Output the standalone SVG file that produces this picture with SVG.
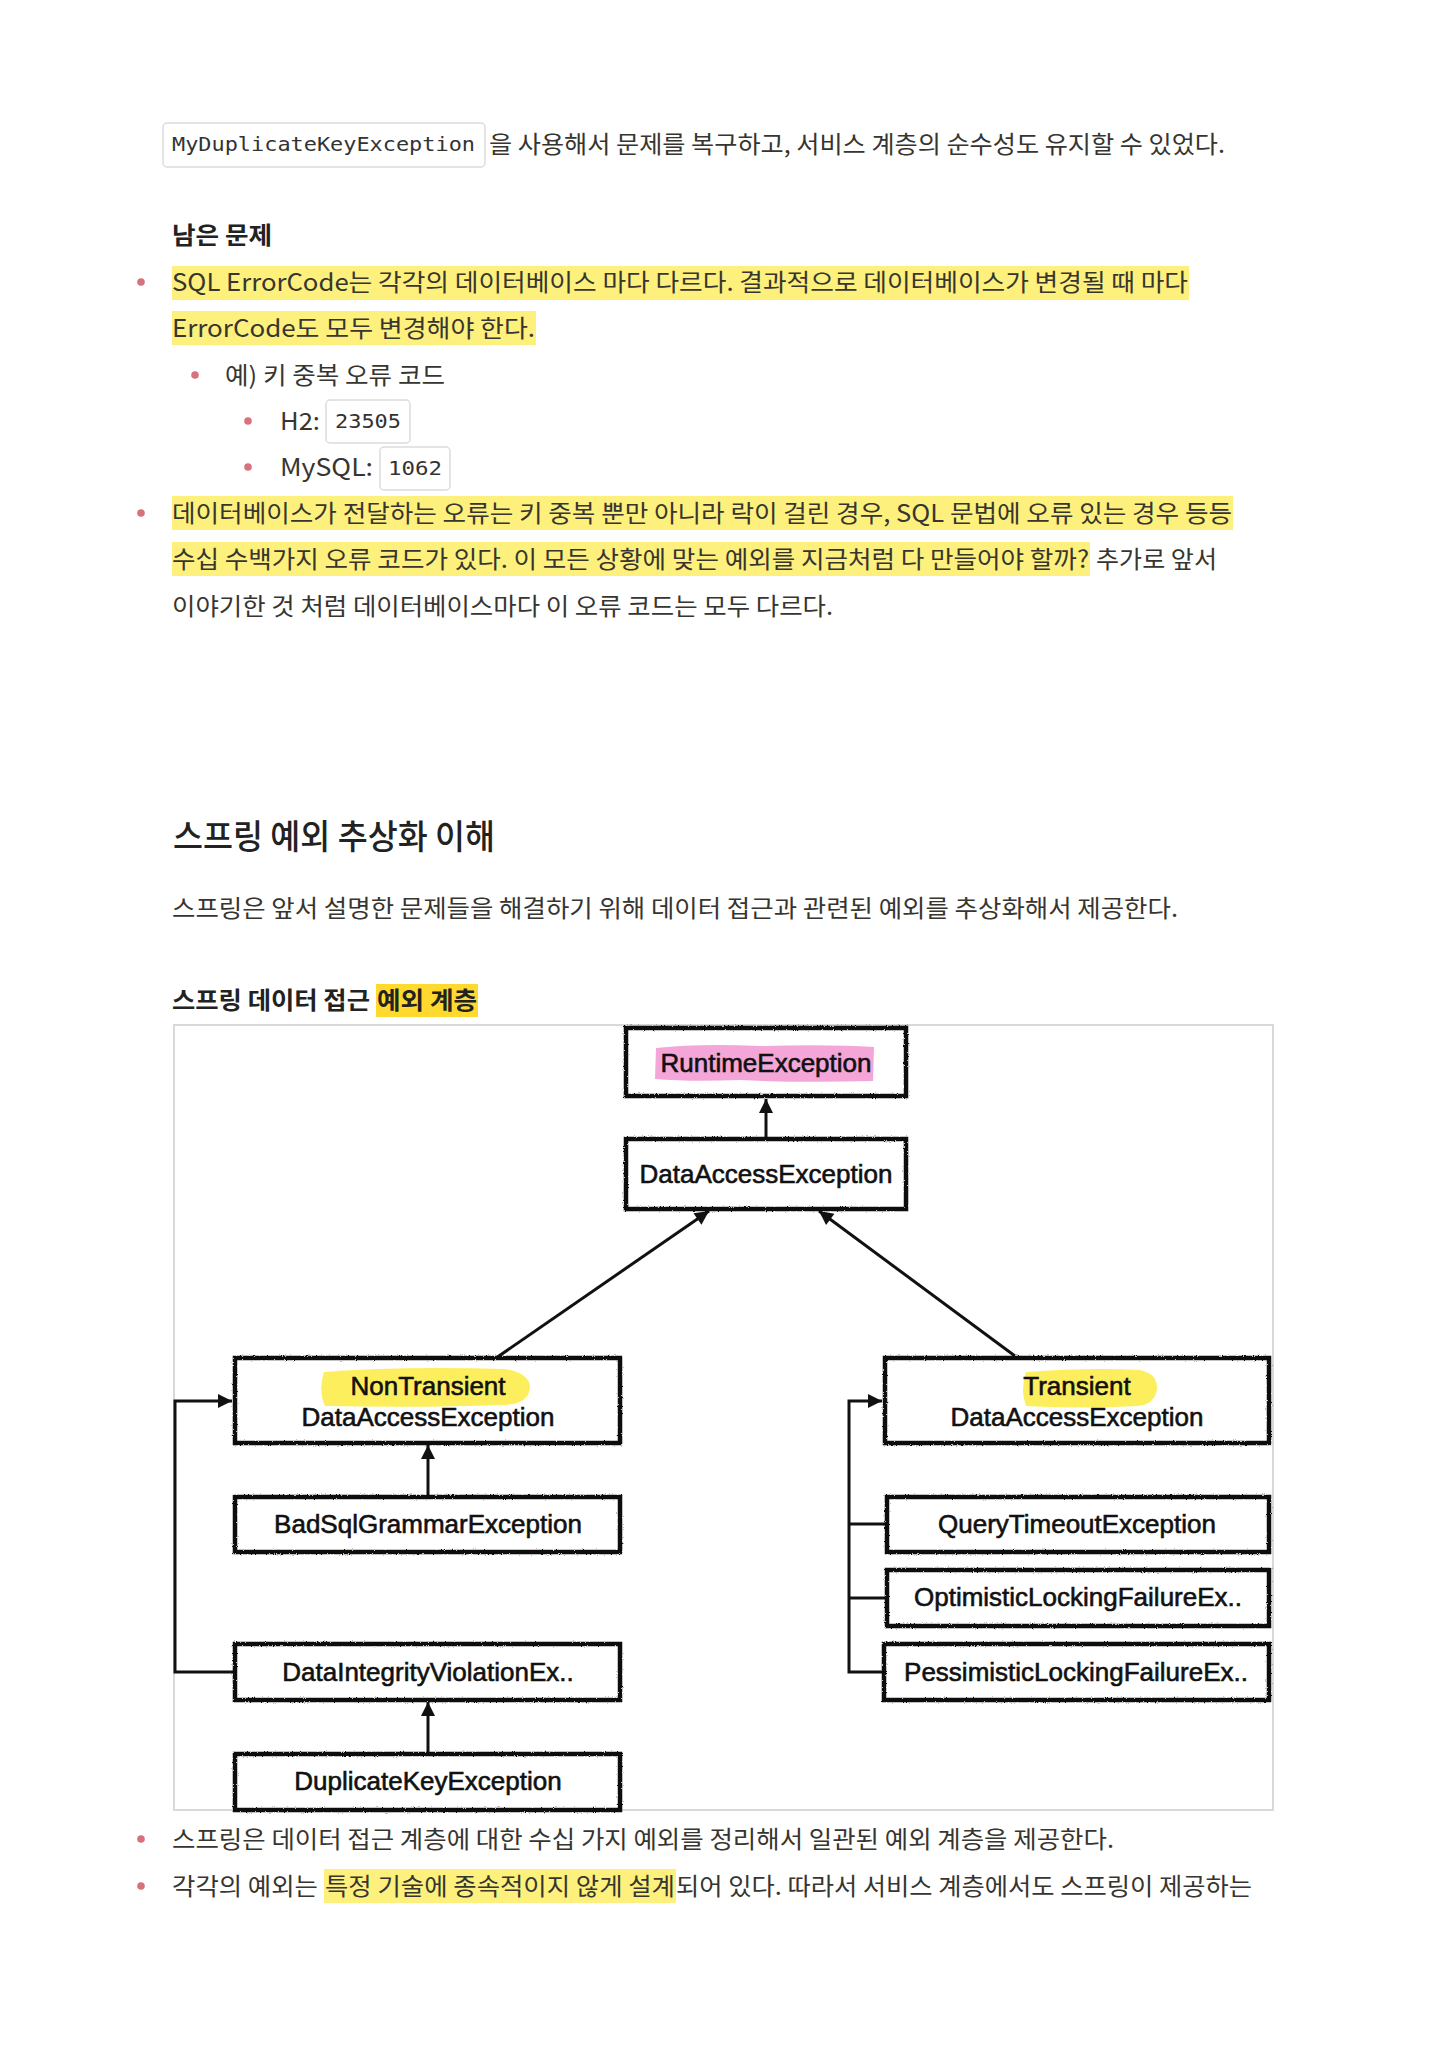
<svg xmlns="http://www.w3.org/2000/svg" width="1447" height="2048" viewBox="0 0 1447 2048">
<defs>
<style>
.b{font-family:"Noto Sans CJK KR","Noto Sans",sans-serif;font-size:24px;fill:#37352f}
.bb{font-family:"Noto Sans CJK KR","Noto Sans",sans-serif;font-size:24px;font-weight:700;fill:#222}
.h{font-family:"Noto Sans CJK KR","Noto Sans",sans-serif;font-size:34px;font-weight:500;fill:#222}
.m{font-family:"DejaVu Sans Mono","Liberation Mono",monospace;font-size:20px;fill:#333}
.cb{fill:#fff;stroke:#dcdcdc;stroke-width:1.5}
.hl{fill:#fdf07c}
.dot{fill:#d9717d}
.n{fill:#fff;stroke:#111;stroke-width:4.5;filter:url(#rough)}
.nt{font-family:"Liberation Sans",Arial,sans-serif;font-size:26px;fill:#111;stroke:#111;stroke-width:0.6;text-anchor:middle}
.c{fill:none;stroke:#111;stroke-width:3}
</style>
<filter id="rough" x="-5%" y="-20%" width="110%" height="140%">
<feTurbulence type="fractalNoise" baseFrequency="0.9" numOctaves="2" seed="4"/>
<feDisplacementMap in="SourceGraphic" scale="2.5" xChannelSelector="R" yChannelSelector="G"/>
</filter>
<marker id="ah" viewBox="0 0 10 10" refX="10" refY="5" markerWidth="17" markerHeight="14" markerUnits="userSpaceOnUse" orient="auto">
<path d="M0,0 L10,5 L0,10 z" fill="#111"/>
</marker>
</defs>
<rect width="1447" height="2048" fill="#fff"/>

<!-- top paragraph -->
<rect class="cb" x="163" y="123" width="322" height="44" rx="4"/>
<text class="m" x="172" y="151" textLength="303" lengthAdjust="spacingAndGlyphs">MyDuplicateKeyException</text>
<text class="b" x="489" y="153" textLength="736" lengthAdjust="spacingAndGlyphs">을 사용해서 문제를 복구하고, 서비스 계층의 순수성도 유지할 수 있었다.</text>

<text class="bb" x="172" y="244" textLength="100" lengthAdjust="spacingAndGlyphs">남은 문제</text>

<circle class="dot" cx="141" cy="282" r="3.8"/>
<rect class="hl" x="172" y="266" width="1017" height="34"/>
<text class="b" x="172" y="291" textLength="1016" lengthAdjust="spacingAndGlyphs">SQL ErrorCode는 각각의 데이터베이스 마다 다르다. 결과적으로 데이터베이스가 변경될 때 마다</text>
<rect class="hl" x="172" y="311" width="364" height="34"/>
<text class="b" x="172" y="337" textLength="363" lengthAdjust="spacingAndGlyphs">ErrorCode도 모두 변경해야 한다.</text>

<circle class="dot" cx="195" cy="375" r="3.8"/>
<text class="b" x="225" y="384" textLength="220" lengthAdjust="spacingAndGlyphs">예) 키 중복 오류 코드</text>

<circle class="dot" cx="248" cy="421" r="3.8"/>
<text class="b" x="280" y="430" textLength="40" lengthAdjust="spacingAndGlyphs">H2:</text>
<rect class="cb" x="326" y="400" width="84" height="43" rx="4"/>
<text class="m" x="335" y="428" textLength="66" lengthAdjust="spacingAndGlyphs">23505</text>

<circle class="dot" cx="248" cy="467" r="3.8"/>
<text class="b" x="280" y="476" textLength="93" lengthAdjust="spacingAndGlyphs">MySQL:</text>
<rect class="cb" x="380" y="447" width="70" height="43" rx="4"/>
<text class="m" x="388" y="475" textLength="54" lengthAdjust="spacingAndGlyphs">1062</text>

<circle class="dot" cx="141" cy="513" r="3.8"/>
<rect class="hl" x="172" y="496" width="1061" height="34"/>
<text class="b" x="172" y="522" textLength="1060" lengthAdjust="spacingAndGlyphs">데이터베이스가 전달하는 오류는 키 중복 뿐만 아니라 락이 걸린 경우, SQL 문법에 오류 있는 경우 등등</text>
<rect class="hl" x="172" y="542" width="918" height="34"/>
<text class="b" x="172" y="568" textLength="917" lengthAdjust="spacingAndGlyphs">수십 수백가지 오류 코드가 있다. 이 모든 상황에 맞는 예외를 지금처럼 다 만들어야 할까?</text>
<text class="b" x="1096" y="568" textLength="121" lengthAdjust="spacingAndGlyphs">추가로 앞서</text>
<text class="b" x="172" y="615" textLength="661" lengthAdjust="spacingAndGlyphs">이야기한 것 처럼 데이터베이스마다 이 오류 코드는 모두 다르다.</text>

<!-- section -->
<text class="h" x="173" y="849" textLength="322" lengthAdjust="spacingAndGlyphs">스프링 예외 추상화 이해</text>
<text class="b" x="172" y="917" textLength="1006" lengthAdjust="spacingAndGlyphs">스프링은 앞서 설명한 문제들을 해결하기 위해 데이터 접근과 관련된 예외를 추상화해서 제공한다.</text>

<text class="bb" x="172" y="1009" textLength="198" lengthAdjust="spacingAndGlyphs">스프링 데이터 접근</text>
<rect x="376" y="984" width="102" height="33" fill="#ffd92e"/>
<text class="bb" x="377" y="1009" textLength="100" lengthAdjust="spacingAndGlyphs">예외 계층</text>

<!-- diagram frame -->
<rect x="174" y="1025" width="1099" height="785" fill="#fff" stroke="#d9d9d9" stroke-width="2"/>

<g id="connectors">
<line class="c" x1="766" y1="1139" x2="766" y2="1099" marker-end="url(#ah)"/>
<line class="c" x1="496" y1="1358" x2="709" y2="1211" marker-end="url(#ah)"/>
<line class="c" x1="1015" y1="1356" x2="819" y2="1211" marker-end="url(#ah)"/>
<line class="c" x1="428" y1="1497" x2="428" y2="1445" marker-end="url(#ah)"/>
<line class="c" x1="428" y1="1754" x2="428" y2="1702" marker-end="url(#ah)"/>
<polyline class="c" points="235,1672 175,1672 175,1401 232,1401" marker-end="url(#ah)"/>
<polyline class="c" points="884,1672 849,1672 849,1401 882,1401" marker-end="url(#ah)"/>
<line class="c" x1="849" y1="1524" x2="887" y2="1524"/>
<line class="c" x1="849" y1="1598" x2="887" y2="1598"/>
</g>

<g id="node-runtime">
<rect class="n" x="626" y="1028" width="280" height="68"/>
<path d="M656,1048 Q700,1043 760,1046 Q830,1044 874,1047 L873,1081 Q800,1083 740,1080 Q690,1082 655,1079 z" fill="#f4a6d9"/>
<text class="nt" x="766" y="1072">RuntimeException</text>
</g>

<g id="node-dataaccess">
<rect class="n" x="626" y="1139" width="280" height="70"/>
<text class="nt" x="766" y="1183">DataAccessException</text>
</g>

<g id="node-nontransient">
<rect class="n" x="235" y="1358" width="385" height="85"/>
<path d="M324,1372 Q400,1366 505,1369 Q530,1373 530,1388 Q528,1404 505,1405 Q420,1408 325,1406 Q318,1390 324,1372 z" fill="#fdee5e"/>
<text class="nt" x="428" y="1395">NonTransient</text>
<text class="nt" x="428" y="1426">DataAccessException</text>
</g>

<g id="node-transient">
<rect class="n" x="885" y="1358" width="384" height="85"/>
<path d="M1026,1372 Q1090,1367 1140,1370 Q1158,1374 1157,1389 Q1155,1404 1138,1406 Q1080,1409 1026,1406 Q1020,1390 1026,1372 z" fill="#fdee5e"/>
<text class="nt" x="1077" y="1395">Transient</text>
<text class="nt" x="1077" y="1426">DataAccessException</text>
</g>

<g id="node-badsql">
<rect class="n" x="235" y="1497" width="385" height="55"/>
<text class="nt" x="428" y="1533">BadSqlGrammarException</text>
</g>

<g id="node-integrity">
<rect class="n" x="235" y="1644" width="385" height="56"/>
<text class="nt" x="428" y="1681">DataIntegrityViolationEx..</text>
</g>

<g id="node-duplicate">
<rect class="n" x="235" y="1754" width="385" height="56"/>
<text class="nt" x="428" y="1790">DuplicateKeyException</text>
</g>

<g id="node-querytimeout">
<rect class="n" x="887" y="1497" width="382" height="55"/>
<text class="nt" x="1077" y="1533">QueryTimeoutException</text>
</g>

<g id="node-optimistic">
<rect class="n" x="887" y="1570" width="382" height="56"/>
<text class="nt" x="1078" y="1606">OptimisticLockingFailureEx..</text>
</g>

<g id="node-pessimistic">
<rect class="n" x="884" y="1644" width="385" height="56"/>
<text class="nt" x="1076" y="1681">PessimisticLockingFailureEx..</text>
</g>

<!-- bottom bullets -->
<circle class="dot" cx="141" cy="1839" r="3.8"/>
<text class="b" x="172" y="1848" textLength="942" lengthAdjust="spacingAndGlyphs">스프링은 데이터 접근 계층에 대한 수십 가지 예외를 정리해서 일관된 예외 계층을 제공한다.</text>

<circle class="dot" cx="141" cy="1886" r="3.8"/>
<text class="b" x="172" y="1895" textLength="146" lengthAdjust="spacingAndGlyphs">각각의 예외는</text>
<rect class="hl" x="324" y="1869" width="352" height="34"/>
<text class="b" x="325" y="1895" textLength="350" lengthAdjust="spacingAndGlyphs">특정 기술에 종속적이지 않게 설계</text>
<text class="b" x="676" y="1895" textLength="576" lengthAdjust="spacingAndGlyphs">되어 있다. 따라서 서비스 계층에서도 스프링이 제공하는</text>
</svg>
